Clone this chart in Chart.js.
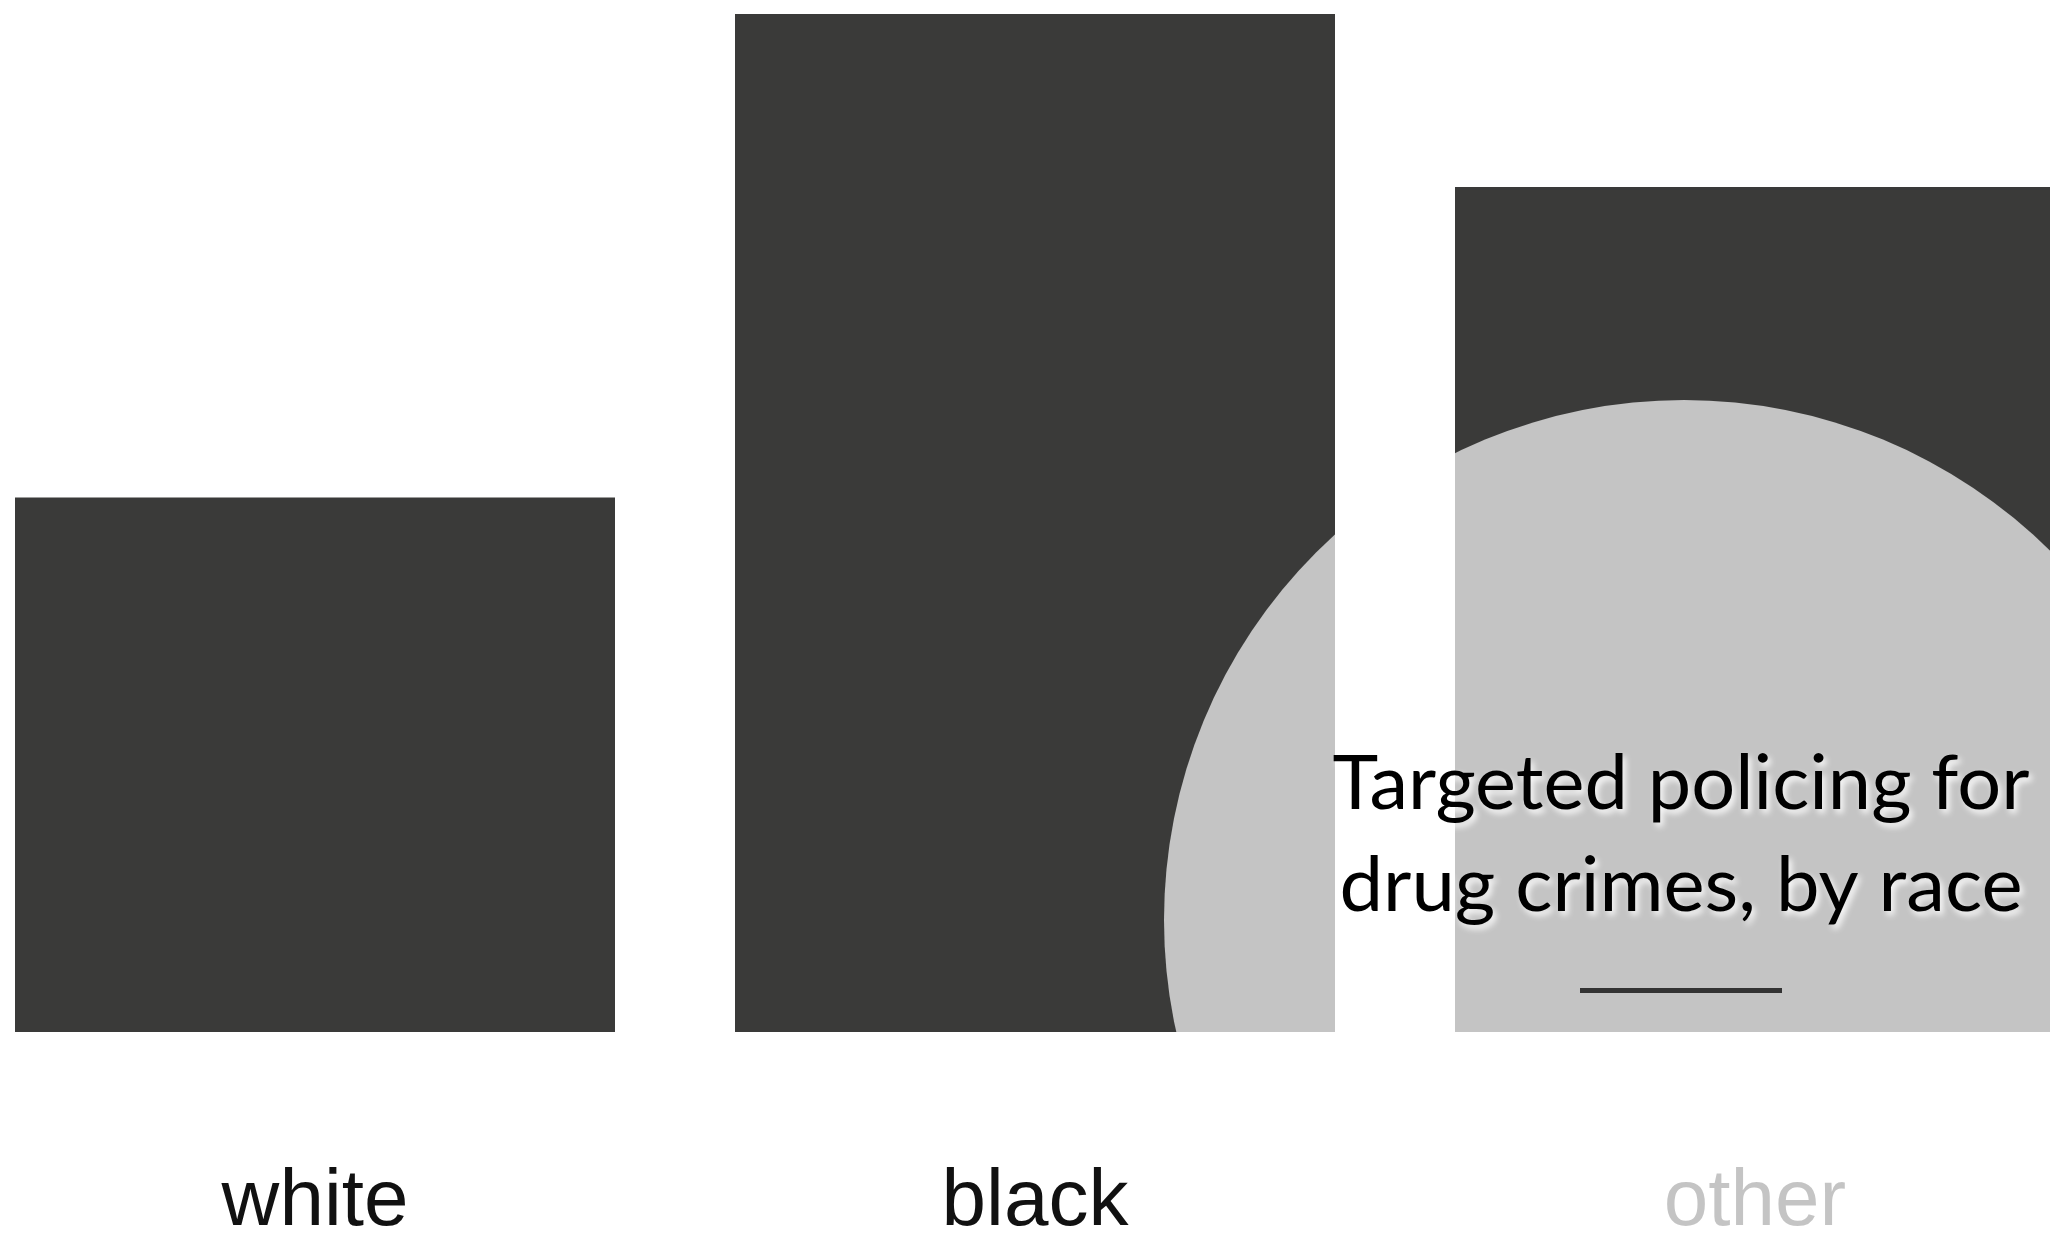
<!DOCTYPE html>
<html lang="en">
<head>
    <meta charset="UTF-8">
    <title>Targeted policing for drug crimes, by race</title>
    <script src="https://cdn.jsdelivr.net/npm/chart.js@4/dist/chart.umd.min.js"></script>
    <style>
        html, body { margin: 0; padding: 0; background: #fff; overflow: hidden; width: 2050px; height: 1240px; }
        #wrap { position: absolute; left: -45px; top: 0; }
        canvas { display: block; }
    </style>
</head>
<body>
    <div id="wrap">
        <canvas id="grafico" width="2160" height="1240"></canvas>
    </div>

<script>
    // dados (altura relativa, black = 100)
    const categorias = ["white", "black", "other"];
    const valores = [52.5, 100, 83];
    const titulo = ["Targeted policing for", "drug crimes, by race"];

    const corBarra = "#3a3a39";
    const corCirculo = "#c4c4c4";

    // círculo cinza que "pinta" só o que já foi desenhado (barras e rótulos)
    const circuloPlugin = {
        id: "circulo",
        afterDatasetsDraw(chart) {
            const ctx = chart.ctx;
            ctx.save();
            ctx.globalCompositeOperation = "source-atop";
            ctx.fillStyle = corCirculo;
            ctx.beginPath();
            ctx.arc(1684 + 45, 920, 520, 0, Math.PI * 2);
            ctx.fill();
            ctx.restore();

            // título com brilho branco
            ctx.save();
            ctx.font = "400 76px Lato";
            ctx.fillStyle = "#000";
            ctx.textBaseline = "alphabetic";
            ctx.shadowColor = "rgba(255,255,255,0.95)";
            ctx.shadowBlur = 6;
            ctx.shadowOffsetX = 3;
            ctx.shadowOffsetY = 4;
            const bases = [809, 911];
            const larguras = [697, 683];
            titulo.forEach(function (linha, i) {
                const w = ctx.measureText(linha).width;
                const sx = larguras[i] / w;
                ctx.save();
                ctx.translate(1681 + 45, bases[i]);
                ctx.scale(sx, 1);
                ctx.textAlign = "center";
                ctx.fillText(linha, 0, 0);
                ctx.restore();
            });
            ctx.shadowColor = "transparent";
            ctx.fillStyle = "#333";
            ctx.fillRect(1580 + 45, 988, 202, 5);
            ctx.restore();
        }
    };

    new Chart(document.getElementById("grafico"), {
        type: "bar",
        data: {
            labels: categorias,
            datasets: [{
                data: valores,
                backgroundColor: corBarra,
                borderWidth: 0,
                barPercentage: 600 / 720,
                categoryPercentage: 1
            }]
        },
        options: {
            responsive: false,
            animation: false,
            devicePixelRatio: 1,
            layout: { padding: { top: 14, bottom: 4, left: 0, right: 0 } },
            plugins: {
                legend: { display: false },
                tooltip: { enabled: false }
            },
            scales: {
                x: {
                    grid: { display: false, drawTicks: false },
                    border: { display: false },
                    ticks: {
                        color: "#111",
                        padding: 131,
                        font: { family: "'Liberation Sans', Arial, sans-serif", size: 80, lineHeight: 1 }
                    },
                    afterFit(scale) { scale.height = 204; }
                },
                y: {
                    display: false,
                    min: 0,
                    max: 100
                }
            }
        },
        plugins: [circuloPlugin]
    });
</script>
</body>
</html>
